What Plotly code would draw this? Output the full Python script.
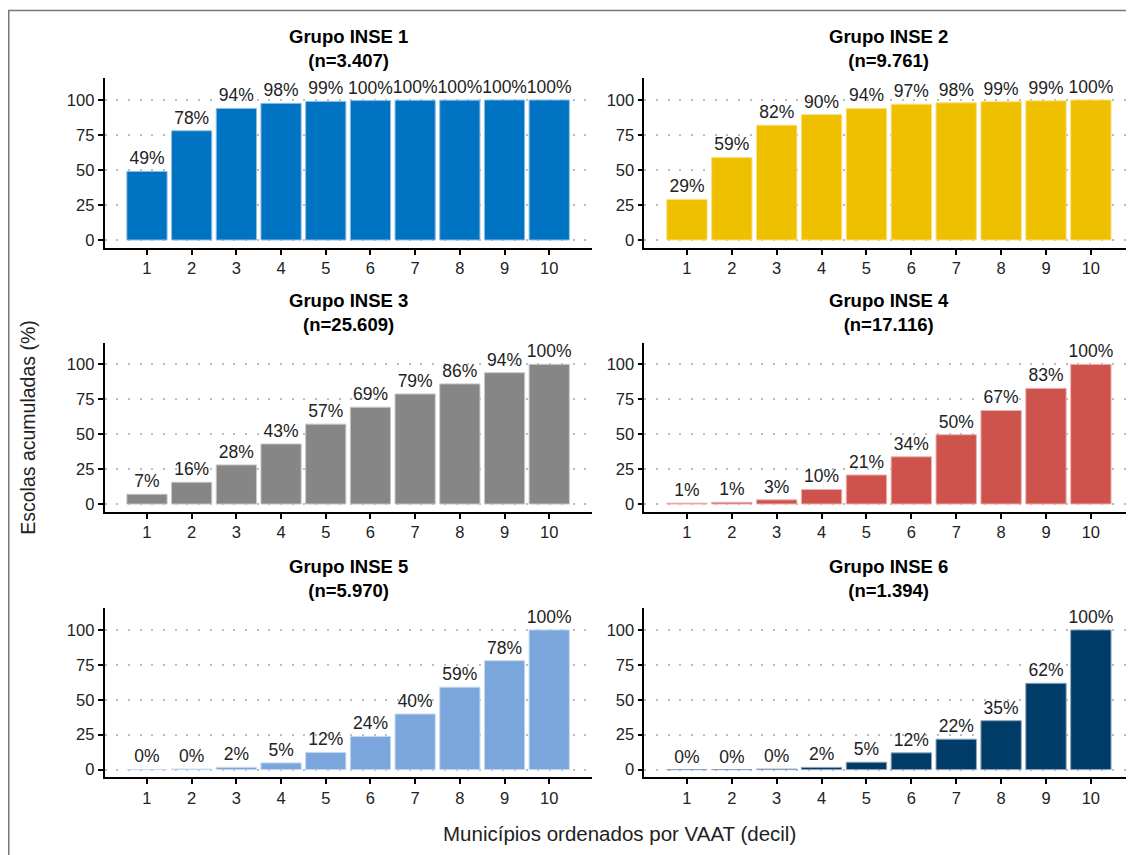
import plotly.graph_objects as go

# window is 1134x855; the page body adds an 8px margin, so the figure is
# sized to fill the rest and positions below are given in window pixels.
OFF = 8
W, H = 1134 - OFF, 855 - OFF

deciles = [1, 2, 3, 4, 5, 6, 7, 8, 9, 10]
tick_labels = ["1", "2", "3", "4", "5", "6", "7", "8", "9", "10"]

group_titles = ["Grupo INSE 1", "Grupo INSE 2", "Grupo INSE 3",
                "Grupo INSE 4", "Grupo INSE 5", "Grupo INSE 6"]
group_n = ["(n=3.407)", "(n=9.761)", "(n=25.609)",
           "(n=17.116)", "(n=5.970)", "(n=1.394)"]

inse1 = [49.0, 78.0, 94.0, 97.6, 99.0, 99.6, 99.8, 99.9, 100.0, 100.0]
inse2 = [29.0, 59.0, 82.0, 89.6, 94.0, 97.0, 98.0, 98.8, 99.4, 100.0]
inse3 = [7.0, 15.6, 28.0, 43.0, 57.2, 69.3, 78.8, 86.0, 94.0, 100.0]
inse4 = [0.6, 1.2, 3.0, 10.4, 20.8, 33.8, 49.6, 67.0, 82.8, 100.0]
inse5 = [0.1, 0.4, 1.6, 4.8, 12.3, 23.8, 39.8, 59.0, 78.0, 100.0]
inse6 = [0.0, 0.0, 0.4, 1.6, 5.3, 12.0, 21.8, 35.0, 61.8, 100.0]
series = [inse1, inse2, inse3, inse4, inse5, inse6]

bar_colors = ["#0073C2", "#EFC000", "#868686", "#CD534C", "#7AA6DC", "#003C67"]
edge_colors = ["#8fbde6", "#f8e08a", "#c8c8c8", "#ecb3b0", "#c4d8f0", "#8fa6bd"]

y_title = "Escolas acumuladas (%)"
x_title = "Municípios ordenados por VAAT (decil)"

FONT = "Liberation Sans, Arial, Helvetica, sans-serif"

# panel geometry in window pixels
col_x = [(104.5, 591.7), (644.3, 1133.5)]
row_y = [(78.3, 247.7), (342.7, 511.7), (608.3, 777.3)]


def px_x(v):
    return (v - OFF) / W


def px_y(v):
    return 1 - (v - OFF) / H


fig = go.Figure()
annotations = []

for i, vals in enumerate(series):
    r, c = divmod(i, 2)
    ax = "" if i == 0 else str(i + 1)
    fig.add_trace(go.Bar(
        x=deciles, y=vals,
        xaxis="x" + ax, yaxis="y" + ax,
        width=0.9,
        marker=dict(color=bar_colors[i], line=dict(color=edge_colors[i], width=1)),
        text=[f"{round(v)}%" for v in vals],
        textposition="outside",
        constraintext="none",
        cliponaxis=False,
        textfont=dict(family=FONT, size=17.5, color="#222222"),
        showlegend=False,
        hoverinfo="x+y",
    ))
    x0, x1 = col_x[c]
    y0, y1 = row_y[r]
    xa = dict(
        domain=[px_x(x0), min(1.0, px_x(x1))],
        range=[0.05, 10.95],
        tickmode="array", tickvals=deciles, ticktext=tick_labels,
        showline=True, linecolor="black", linewidth=1.6,
        ticks="outside", ticklen=5, tickwidth=1.6, tickcolor="black",
        showgrid=False, zeroline=False,
        tickfont=dict(family=FONT, size=16.5, color="#222222"),
        anchor="y" + ax, fixedrange=True,
    )
    ya = dict(
        domain=[px_y(y1), px_y(y0)],
        range=[-5.5, 115.5],
        tickmode="array", tickvals=[0, 25, 50, 75, 100],
        showline=True, linecolor="black", linewidth=1.6,
        ticks="outside", ticklen=5, tickwidth=1.6, tickcolor="black",
        showgrid=True, gridcolor="#bdbdbd", gridwidth=1.5, griddash="2px,9.7px",
        zeroline=False,
        tickfont=dict(family=FONT, size=16.5, color="#222222"),
        anchor="x" + ax, fixedrange=True,
    )
    fig.update_layout(**{"xaxis" + ax: xa, "yaxis" + ax: ya})

    cx = px_x((x0 + x1) / 2)
    annotations.append(dict(
        text="<b>" + group_titles[i] + "</b><br><b>" + group_n[i] + "</b>",
        x=cx, y=px_y(y0 - 30), xref="paper", yref="paper",
        xanchor="center", yanchor="middle", align="center",
        showarrow=False, font=dict(family=FONT, size=18.5, color="black")))

annotations.append(dict(
    text=y_title, x=px_x(28), y=px_y((78.3 + 777.3) / 2),
    xref="paper", yref="paper", xanchor="center", yanchor="middle",
    textangle=-90, showarrow=False,
    font=dict(family=FONT, size=19.5, color="#222222")))
annotations.append(dict(
    text=x_title, x=px_x((104.5 + 1133.5) / 2), y=px_y(833),
    xref="paper", yref="paper", xanchor="center", yanchor="middle",
    showarrow=False, font=dict(family=FONT, size=20.5, color="#222222")))

fig.update_layout(
    width=W, height=H,
    margin=dict(l=0, r=0, t=0, b=0),
    paper_bgcolor="white", plot_bgcolor="white",
    bargap=0.1,
    annotations=annotations,
    shapes=[dict(type="rect", xref="paper", yref="paper",
                 x0=px_x(8.75), x1=1.05, y0=-0.05, y1=px_y(10.5),
                 line=dict(color="#777777", width=1.5), fillcolor="rgba(0,0,0,0)",
                 layer="above")],
    font=dict(family=FONT),
)

fig.write_html("out.html", config={"displayModeBar": False})
